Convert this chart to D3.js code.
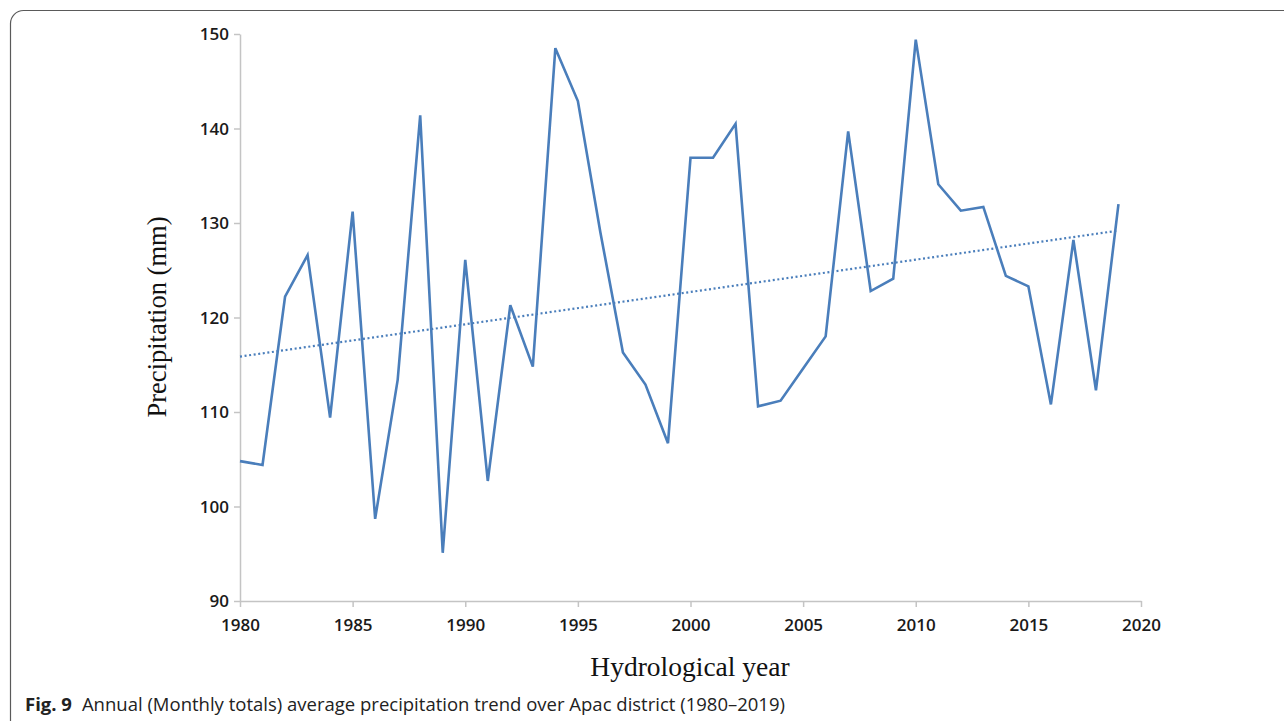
<!DOCTYPE html>
<html>
<head>
<meta charset="utf-8">
<script src="https://cdn.jsdelivr.net/npm/d3@7"></script>
<style>
  html, body { margin: 0; padding: 0; background: #fff; }
  svg { display: block; }
</style>
</head>
<body>
<svg id="chart" width="1284" height="721"></svg>
<script>
const years = [1980,1981,1982,1983,1984,1985,1986,1987,1988,1989,
               1990,1991,1992,1993,1994,1995,1996,1997,1998,1999,
               2000,2001,2002,2003,2004,2005,2006,2007,2008,2009,
               2010,2011,2012,2013,2014,2015,2016,2017,2018,2019];
const precipitation = [104.8,104.4,122.2,126.6,109.4,131.2,98.7,113.4,141.4,95.1,
                       126.1,102.7,121.3,114.8,148.5,142.9,129.0,116.3,112.9,106.7,
                       136.9,136.9,140.5,110.6,111.2,114.6,118.0,139.7,122.8,124.1,
                       149.4,134.1,131.3,131.7,124.4,123.3,110.8,128.2,112.3,132.0];
const xTicks = [1980,1985,1990,1995,2000,2005,2010,2015,2020];
const yTicks = [90,100,110,120,130,140,150];
const yTitle = "Precipitation (mm)";
const xTitle = "Hydrological year";
const captionBold = "Fig. 9";
const captionText = "Annual (Monthly totals) average precipitation trend over Apac district (1980–2019)";

const svg = d3.select("#chart");
const lineColor = "#4a7ebb";
const axisColor = "#c4c4c4";

// frame
svg.append("rect")
  .attr("x", 10.5).attr("y", 10.5)
  .attr("width", 1400).attr("height", 800)
  .attr("rx", 13).attr("ry", 13)
  .attr("fill", "none").attr("stroke", "#5a5a5a").attr("stroke-width", 1.2);

const x = d3.scaleLinear().domain([1980, 2020]).range([240, 1141]);
const y = d3.scaleLinear().domain([90, 150]).range([601, 34]);

// axes
const gx = svg.append("g").attr("transform", `translate(0,${y(90)})`)
  .call(d3.axisBottom(x).tickValues(xTicks).tickFormat(d3.format("d")).tickSize(6).tickSizeOuter(0));
const gy = svg.append("g").attr("transform", `translate(${x(1980)},0)`)
  .call(d3.axisLeft(y).tickValues(yTicks).tickSize(6).tickSizeOuter(0));

[gx, gy].forEach(g => {
  g.select(".domain").attr("stroke", axisColor).attr("stroke-width", 1.5);
  g.selectAll(".tick line").attr("stroke", axisColor).attr("stroke-width", 1.5);
  g.selectAll(".tick text")
    .attr("fill", "#1a1a1a")
    .attr("font-family", "'Open Sans', sans-serif")
    .attr("font-weight", 600)
    .attr("font-size", 17);
});
gx.selectAll(".tick text").attr("y", 14).attr("dy", "0.95em");
gy.selectAll(".tick text").attr("x", -11).attr("dy", "0.35em");

// trend line (least squares from data)
const n = years.length;
const mx = d3.mean(years), my = d3.mean(precipitation);
let sxy = 0, sxx = 0;
for (let i = 0; i < n; i++) {
  sxy += (years[i] - mx) * (precipitation[i] - my);
  sxx += (years[i] - mx) ** 2;
}
const slope = sxy / sxx, intercept = my - slope * mx;
const trendYears = [years[0], years[n - 1]];
svg.append("path")
  .datum(trendYears)
  .attr("fill", "none")
  .attr("stroke", lineColor)
  .attr("stroke-width", 2.2)
  .attr("stroke-dasharray", "2,2.6")
  .attr("d", d3.line().x(d => x(d)).y(d => y(intercept + slope * d)));

// data line
const data = years.map((yr, i) => ({ yr, v: precipitation[i] }));
svg.append("path")
  .datum(data)
  .attr("fill", "none")
  .attr("stroke", lineColor)
  .attr("stroke-width", 2.6)
  .attr("stroke-linejoin", "miter")
  .attr("d", d3.line().x(d => x(d.yr)).y(d => y(d.v)));

// axis titles
svg.append("text")
  .attr("transform", `translate(166,317) rotate(-90)`)
  .attr("text-anchor", "middle")
  .attr("font-family", "'Liberation Serif', 'Times New Roman', serif")
  .attr("font-size", 26.5)
  .attr("fill", "#111")
  .text(yTitle);

svg.append("text")
  .attr("x", 690).attr("y", 676)
  .attr("text-anchor", "middle")
  .attr("font-family", "'Liberation Serif', 'Times New Roman', serif")
  .attr("font-size", 27.5)
  .attr("fill", "#111")
  .text(xTitle);

// caption
const cap = svg.append("text")
  .attr("x", 25).attr("y", 711)
  .attr("font-family", "'Open Sans', sans-serif")
  .attr("font-size", 18.5)
  .attr("fill", "#222");
cap.append("tspan").attr("font-weight", 700).text(captionBold);
cap.append("tspan").attr("dx", 10).text(captionText);
</script>
</body>
</html>
